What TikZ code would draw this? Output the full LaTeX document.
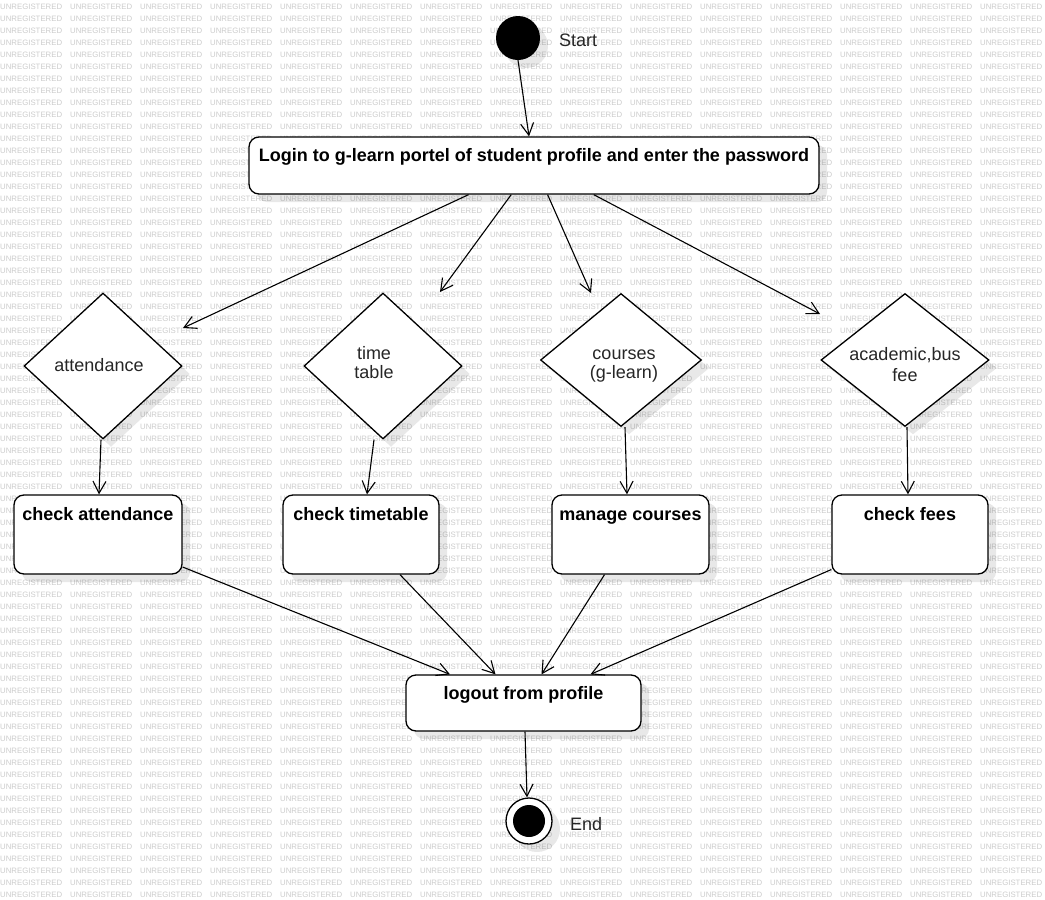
\documentclass[tikz,border=0pt]{standalone}
\usepackage{fontspec}
\setmainfont{Liberation Sans}
\usetikzlibrary{shapes.geometric, arrows.meta, shadows}

\tikzset{
    wm/.style={anchor=west, inner sep=0pt, text=black!20, font=\fontsize{7.8}{8}\selectfont},
    dropsh/.style={drop shadow={shadow xshift=8pt, shadow yshift=-8pt, opacity=0.09, fill=black}},
    actbox/.style={draw, fill=white, rounded corners=10pt, line width=1.3pt, dropsh, inner xsep=0pt, inner ysep=0pt, font=\bfseries\fontsize{18}{21}\selectfont},
    tallbox/.style={actbox, text height=25.5pt, text depth=53.5pt},
    choice/.style={diamond, draw, fill=white, line width=1.3pt, dropsh, inner sep=0pt},
    choicetext/.style={inner sep=0pt, align=center, text=black!85, font=\fontsize{18}{19.5}\selectfont},
    flow/.style={-{Straight Barb[length=12pt,width=13pt]}, line width=1.1pt},
    caption/.style={anchor=west, inner sep=0pt, text=black!85, font=\fontsize{18}{21}\selectfont}
}

\begin{document}
\begin{tikzpicture}[x=1pt, y=-1pt]

    \fill[white] (0,0) rectangle (1045,900);
    \useasboundingbox (0,0) rectangle (1045,900);

    % Watermark
    \foreach \r in {0,...,74}
        {
            \pgfmathsetmacro{\wy}{7.3+12*\r}  % row position
            \foreach \c in {0,...,14}
                \node[wm] (WM\r-\c) at (70*\c, \wy) {UNREGISTERED};
        }

    % Start and end
    \node[circle, fill=black, minimum size=44pt, inner sep=0pt, dropsh] (START) at (518, 38) {};
    \node[caption] (STARTL) at (559, 40) {Start};
    \node[circle, draw, fill=white, line width=1.3pt, minimum size=46pt, inner sep=0pt, dropsh] (END) at (529, 821) {};
    \fill[black] (END) circle (16pt);
    \node[caption] (ENDL) at (570, 824) {End};

    % Activities
    \node[actbox, minimum width=570pt, text height=24.5pt, text depth=32.5pt] (LOGIN) at (534, 165.5)
        {Login to g-learn portel of student profile and enter the password};
    \node[tallbox, minimum width=168pt] (CAB) at (98, 534.5) {check attendance};
    \node[tallbox, minimum width=156pt] (CTB) at (361, 534.5) {check timetable};
    \node[tallbox, minimum width=157pt] (MCB) at (630.5, 534.5) {manage courses};
    \node[tallbox, minimum width=156pt] (CFB) at (910, 534.5) {check fees};
    \node[actbox, minimum width=235pt, text height=24.5pt, text depth=31.5pt] (LOGOUT) at (523.5, 703)
        {logout from profile};

    % Choices
    \node[choice, minimum width=158pt, minimum height=146pt] (ATD) at (103, 366) {};
    \node[choice, minimum width=158pt, minimum height=146pt] (TTD) at (383, 366) {};
    \node[choice, minimum width=161pt, minimum height=133pt] (CRD) at (621, 360) {};
    \node[choice, minimum width=168pt, minimum height=133pt] (ACD) at (905, 360) {};
    \node[choicetext] (ATDT) at (99, 365) {attendance};
    \node[choicetext] (TTDT) at (374, 362.5) {time\\table};
    \node[choicetext] (CRDT) at (624, 366) {courses\\(g-learn)};
    \node[choicetext, font=\fontsize{18}{21}\selectfont] (ACDT) at (905, 364.5) {academic,bus\\fee};

    % Free ends of the login arrows
    \coordinate (ATTIN) at (183, 328);
    \coordinate (TTIN) at (440, 292);
    \coordinate (CRIN) at (591, 293);
    \coordinate (ACIN) at (820, 314);

    % Flows
    \draw[flow] (START.south) -- ([xshift=-5pt]LOGIN.north);
    \draw[flow] (LOGIN.-156.6) -- (ATTIN);
    \draw[flow] (LOGIN.-128.9) -- (TTIN);
    \draw[flow] (LOGIN.-65.5) -- (CRIN);
    \draw[flow] (LOGIN.-26.6) -- (ACIN);

    \draw[flow] ([xshift=-2pt]ATD.south) -- ([xshift=1pt]CAB.north);
    \draw[flow] ([xshift=-9pt]TTD.south) -- ([xshift=6pt]CTB.north);
    \draw[flow] ([xshift=4pt]CRD.south) -- ([xshift=-3.5pt]MCB.north);
    \draw[flow] ([xshift=2pt]ACD.south) -- ([xshift=-2pt]CFB.north);

    \draw[flow] (CAB.-21.7) -- ([xshift=-73.5pt]LOGOUT.north);
    \draw[flow] ([xshift=39pt]CTB.south) -- ([xshift=-28pt]LOGOUT.north);
    \draw[flow] ([xshift=-26pt]MCB.south) -- ([xshift=18pt]LOGOUT.north);
    \draw[flow] (CFB.-156.1) -- ([xshift=67pt]LOGOUT.north);

    \draw[flow] ([xshift=1.5pt]LOGOUT.south) -- ([xshift=-2pt]END.north);

\end{tikzpicture}
\end{document}
